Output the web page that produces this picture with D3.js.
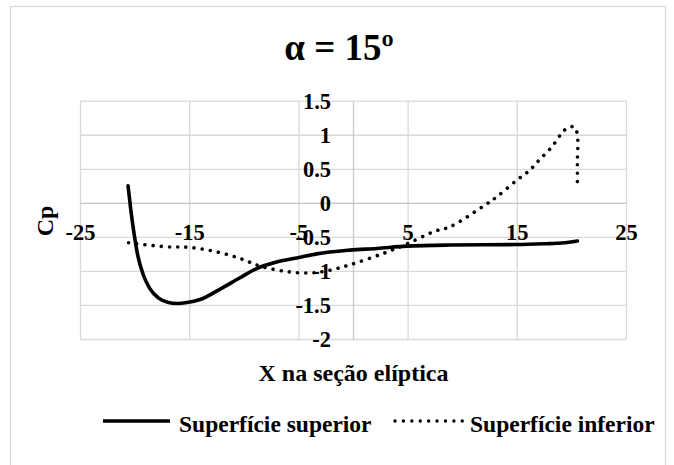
<!DOCTYPE html>
<html>
<head>
<meta charset="utf-8">
<script src="https://cdn.jsdelivr.net/npm/d3@7"></script>
<style>
  html, body { margin: 0; padding: 0; background: #fff; }
  svg { display: block; }
  text { font-family: "Liberation Serif", "Times New Roman", serif; font-weight: bold; fill: #000; }
</style>
</head>
<body>
<svg id="chart" width="674" height="465"></svg>
<script>
// Pressure coefficient along the elliptic section, upper surface: [x, Cp]
const upperX = [-20.6, -20.35, -20.05, -19.7, -19.2, -18.6, -17.8, -16.9, -16.15, -15.2, -14.0, -12.2, -10.35, -8.82, -7.0, -4.85, -3.32, -0.27, 2.2, 4.9, 8.9, 15, 17.7, 18.65, 19.8, 20.55];
const upperCp = [0.25, -0.1, -0.45, -0.78, -1.06, -1.26, -1.40, -1.465, -1.478, -1.465, -1.42, -1.27, -1.10, -0.965, -0.87, -0.80, -0.75, -0.695, -0.67, -0.636, -0.62, -0.613, -0.60, -0.594, -0.58, -0.56];

// Lower surface: [x, Cp]
const lowerX = [-20.55, -17.06, -14.9, -12.5, -10.35, -8.5, -6.07, -4.0, -2.4, -0.27, 2.77, 4.9, 7.35, 8.9, 11.93, 13.16, 15, 16.2, 17.1, 18.2, 19.1, 19.7, 20.3, 20.55, 20.55, 20.55];
const lowerCp = [-0.587, -0.646, -0.655, -0.72, -0.817, -0.93, -1.01, -1.03, -1.0, -0.91, -0.743, -0.607, -0.426, -0.35, -0.05, 0.088, 0.333, 0.48, 0.637, 0.82, 1.02, 1.107, 1.11, 0.99, 0.6, 0.26];

const xTicks = [-25, -15, -5, 5, 15, 25];
const xTickLabels = ["-25", "-15", "-5", "5", "15", "25"];
const yTicks = [1.5, 1, 0.5, 0, -0.5, -1, -1.5, -2];
const yTickLabels = ["1.5", "1", "0.5", "0", "-0.5", "-1", "-1.5", "-2"];

const seriesNames = ["Superfície superior", "Superfície inferior"];
const chartTitle = "α = 15º";
const xTitle = "X na seção elíptica";
const yTitle = "Cp";

const FONT = '"Liberation Serif", "Times New Roman", serif';
const svg = d3.select("#chart");
const H = 465;
const plot = { left: 80, right: 626, top: 100.7, bottom: 339 };

const x = d3.scaleLinear().domain([-25, 25]).range([plot.left, plot.right]);
const y = d3.scaleLinear().domain([-2, 1.5]).range([plot.bottom, plot.top]);

const gridColor = "#d9d9d9";
const axisColor = "#c8c8c8";

// chart frame
svg.append("rect")
  .attr("x", 10.5).attr("y", 6.5)
  .attr("width", 655).attr("height", H + 20)
  .attr("fill", "#fff").attr("stroke", gridColor).attr("stroke-width", 1.3);

// vertical gridlines
svg.append("g")
  .attr("transform", `translate(0,${plot.bottom})`)
  .call(d3.axisBottom(x).tickValues(xTicks).tickSize(-(plot.bottom - plot.top)).tickFormat(""))
  .call(g => g.select(".domain").remove())
  .call(g => g.selectAll("line").attr("stroke", gridColor).attr("stroke-width", 1.3));

// horizontal gridlines
svg.append("g")
  .attr("transform", `translate(${plot.left},0)`)
  .call(d3.axisLeft(y).tickValues(yTicks).tickSize(-(plot.right - plot.left)).tickFormat(""))
  .call(g => g.select(".domain").remove())
  .call(g => g.selectAll("line").attr("stroke", gridColor).attr("stroke-width", 1.3));

// x axis crossing at Cp = 0
const xAxis = svg.append("g")
  .attr("transform", `translate(0,${y(0)})`)
  .call(d3.axisBottom(x).tickValues(xTicks).tickSize(0).tickSizeOuter(0)
    .tickFormat((d, i) => xTickLabels[i]))
  .attr("font-family", FONT).attr("font-size", 22.5).attr("font-weight", "bold");
xAxis.select(".domain").attr("stroke", axisColor).attr("stroke-width", 1.3);
xAxis.selectAll("text").attr("y", 37.5).attr("dy", null).attr("fill", "#000");

// y axis crossing at x = 0
const yAxis = svg.append("g")
  .attr("transform", `translate(${x(0)},0)`)
  .call(d3.axisLeft(y).tickValues(yTicks).tickSize(0).tickSizeOuter(0).tickPadding(22)
    .tickFormat((d, i) => yTickLabels[i]))
  .attr("font-family", FONT).attr("font-size", 22.5).attr("font-weight", "bold");
yAxis.select(".domain").attr("stroke", axisColor).attr("stroke-width", 1.3);
yAxis.selectAll("text").attr("dy", "0.34em").attr("fill", "#000");

// series
const smooth = d3.line()
  .x(d => x(d[0])).y(d => y(d[1]))
  .curve(d3.curveMonotoneX);
const smoothRom = d3.line()
  .x(d => x(d[0])).y(d => y(d[1]))
  .curve(d3.curveCatmullRom.alpha(0.5));

const upper = upperX.map((v, i) => [v, upperCp[i]]);
const lower = lowerX.map((v, i) => [v, lowerCp[i]]);

svg.append("path")
  .datum(lower)
  .attr("d", smoothRom)
  .attr("fill", "none").attr("stroke", "#000")
  .attr("stroke-width", 3.6)
  .attr("stroke-linecap", "round")
  .attr("stroke-dasharray", "0.01 8.2");

svg.append("path")
  .datum(upper)
  .attr("d", smooth)
  .attr("fill", "none").attr("stroke", "#000")
  .attr("stroke-width", 3.6)
  .attr("stroke-linecap", "round");

// titles
svg.append("text")
  .attr("x", 339).attr("y", 60)
  .attr("text-anchor", "middle")
  .attr("font-size", 37)
  .text(chartTitle);

svg.append("text")
  .attr("x", 353.5).attr("y", 381)
  .attr("text-anchor", "middle")
  .attr("font-size", 24)
  .text(xTitle);

svg.append("text")
  .attr("transform", "translate(53,221) rotate(-90)")
  .attr("text-anchor", "middle")
  .attr("font-size", 24)
  .text(yTitle);

// legend
const legend = svg.append("g");
const legendItems = [
  { name: seriesNames[0], x0: 103, x1: 170, tx: 179, dash: null, w: 3.6 },
  { name: seriesNames[1], x0: 395, x1: 464, tx: 470, dash: "0.01 8.4", w: 3.4 }
];
legendItems.forEach(it => {
  legend.append("line")
    .attr("x1", it.x0).attr("x2", it.x1)
    .attr("y1", 421).attr("y2", 421)
    .attr("stroke", "#000").attr("stroke-width", it.w)
    .attr("stroke-linecap", it.dash ? "round" : "butt")
    .attr("stroke-dasharray", it.dash);
  legend.append("text")
    .attr("x", it.tx).attr("y", 432)
    .attr("font-size", 23.5)
    .text(it.name);
});
</script>
</body>
</html>
